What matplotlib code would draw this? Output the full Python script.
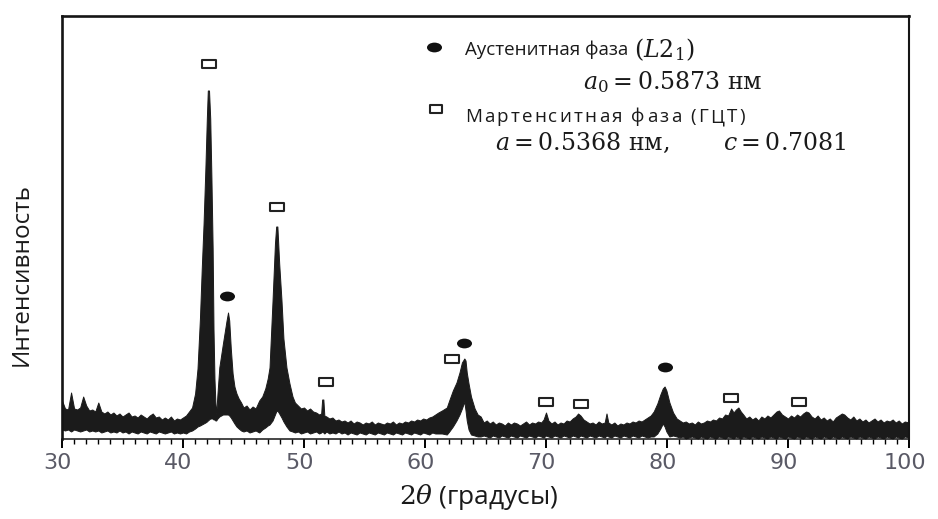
import matplotlib
matplotlib.use("Agg")
import matplotlib.pyplot as plt
import matplotlib.transforms as mtransforms
from matplotlib.path import Path
from matplotlib.ticker import MultipleLocator

# XRD pattern: 2theta grid (deg) and lower / upper edge of the noisy trace (a.u.)
two_theta = [
    # 30 - 40.5
    30.0, 30.25, 30.5, 30.75, 31.0, 31.25, 31.5, 31.75, 32.0, 32.25,
    32.5, 32.75, 33.0, 33.25, 33.5, 33.75, 34.0, 34.25, 34.5, 34.75,
    35.0, 35.25, 35.5, 35.75, 36.0, 36.25, 36.5, 36.75, 37.0, 37.25,
    37.5, 37.75, 38.0, 38.25, 38.5, 38.75, 39.0, 39.25, 39.5, 39.75,
    40.0, 40.25, 40.5,
    # peaks at 42.1, 43.7, 47.7
    40.75, 41.0, 41.2, 41.4, 41.55, 41.7, 41.85, 41.97, 42.05, 42.15,
    42.25, 42.35, 42.45, 42.52, 42.6, 42.68, 42.74, 42.85, 43.0, 43.3,
    43.6, 43.72, 43.82, 43.95, 44.1, 44.25, 44.42, 44.6, 44.8, 45.0,
    45.25, 45.5, 45.75, 46.0, 46.3, 46.55, 46.8, 47.0, 47.15, 47.4,
    47.6, 47.7, 47.8, 47.95, 48.14, 48.3, 48.55, 48.8, 49.05,
    # 49 - 61
    49.25, 49.5, 49.75, 50.0, 50.25, 50.5, 50.75, 51.0, 51.25, 51.42,
    51.5, 51.6, 51.68, 51.85, 52.1, 52.35, 52.6, 52.85, 53.1, 53.35,
    53.6, 53.85, 54.1, 54.35, 54.6, 54.85, 55.1, 55.35, 55.6, 55.85,
    56.1, 56.35, 56.6, 56.85, 57.1, 57.35, 57.6, 57.85, 58.1, 58.35,
    58.6, 58.85, 59.1, 59.35, 59.6, 59.85, 60.1, 60.35, 60.6, 60.85,
    # peak at 63.2
    61.1, 61.4, 61.8, 62.0, 62.3, 62.6, 62.85, 63.05, 63.25, 63.35,
    63.45, 63.6, 63.8, 64.1, 64.35,
    # 64.6 - 78.7
    64.6, 64.85, 65.1, 65.35, 65.6, 65.85, 66.1, 66.35, 66.6, 66.85,
    67.1, 67.35, 67.6, 67.85, 68.1, 68.35, 68.6, 68.85, 69.1, 69.35,
    69.6, 69.8, 70.0, 70.2, 70.45, 70.7, 70.95, 71.2, 71.45, 71.7,
    71.95, 72.2, 72.45, 72.65, 72.85, 73.1, 73.35, 73.6, 73.85, 74.1,
    74.35, 74.6, 74.85, 75.0, 75.15, 75.4, 75.65, 75.9, 76.15, 76.4,
    76.65, 76.9, 77.15, 77.4, 77.65, 77.9, 78.15, 78.4, 78.65,
    # peak at 79.8
    78.9, 79.2, 79.45, 79.65, 79.8, 79.95, 80.2, 80.5, 80.8,
    # 81 - 100
    81.05, 81.3, 81.55, 81.8, 82.05, 82.3, 82.55, 82.8, 83.05, 83.3,
    83.55, 83.8, 84.05, 84.3, 84.55, 84.8, 85.05, 85.3, 85.5, 85.7,
    85.9, 86.1, 86.3, 86.55, 86.8, 87.05, 87.3, 87.55, 87.8, 88.05,
    88.3, 88.55, 88.8, 89.05, 89.25, 89.5, 89.75, 90.0, 90.25, 90.5,
    90.75, 91.0, 91.25, 91.5, 91.7, 91.95, 92.2, 92.45, 92.7, 92.95,
    93.2, 93.45, 93.7, 93.95, 94.2, 94.45, 94.65, 94.9, 95.15, 95.4,
    95.65, 95.9, 96.15, 96.4, 96.65, 96.9, 97.15, 97.4, 97.65, 97.9,
    98.15, 98.4, 98.65, 98.9, 99.15, 99.4, 99.65, 100.0,
]
trace_low = [
    9, 8, 9, 7, 9, 8, 7, 8, 9, 7,
    8, 7, 8, 6, 7, 8, 6, 7, 6, 8,
    6, 7, 5, 7, 6, 5, 7, 6, 5, 7,
    6, 5, 7, 6, 5, 6, 7, 5, 6, 5,
    6, 5, 7,
    8, 10, 12, 13, 14, 15, 16, 17, 18, 19,
    20, 20, 20, 19, 19, 18, 18, 20, 22, 24,
    24, 24, 23, 21, 18, 15, 12, 10, 8, 7,
    8, 6, 7, 8, 6, 9, 11, 13, 14, 18,
    24, 27, 28, 25, 21, 17, 12, 8, 7,
    6, 7, 5, 6, 7, 5, 6, 7, 5, 6,
    7, 6, 5, 7, 5, 6, 5, 7, 5, 6,
    4, 6, 5, 4, 6, 5, 4, 6, 5, 4,
    6, 5, 4, 6, 5, 4, 6, 5, 4, 6,
    5, 4, 6, 5, 4, 6, 5, 4, 6, 5,
    5, 5, 4, 7, 12, 18, 24, 30, 37, 28,
    18, 9, 4, 3, 2,
    2, 3, 2, 1, 3, 2, 1, 3, 2, 1,
    3, 2, 1, 3, 2, 1, 3, 2, 1, 3,
    2, 1, 3, 2, 1, 3, 2, 1, 3, 2,
    1, 3, 2, 1, 3, 2, 1, 3, 2, 1,
    3, 2, 1, 3, 2, 1, 3, 2, 1, 3,
    2, 1, 3, 2, 1, 3, 2, 1, 2,
    2, 5, 10, 15, 12, 7, 2, 3, 2,
    1, 2, 0, 1, 2, 1, 0, 2, 1, 0,
    2, 1, 0, 2, 1, 0, 2, 1, 0, 2,
    1, 0, 2, 1, 0, 2, 1, 0, 2, 1,
    0, 2, 1, 0, 2, 1, 0, 2, 1, 0,
    2, 1, 0, 2, 1, 0, 2, 1, 0, 2,
    1, 0, 2, 1, 0, 2, 1, 0, 2, 1,
    0, 2, 1, 0, 2, 1, 0, 2, 1, 0,
    2, 1, 0, 2, 1, 0, 2, 1,
]
trace_high = [
    38, 30, 29, 46, 30, 29, 31, 42, 33, 28,
    29, 27, 36, 27, 25, 27, 24, 26, 23, 25,
    22, 24, 26, 22, 23, 21, 24, 22, 20, 23,
    25, 21, 22, 19, 21, 19, 22, 18, 20, 19,
    21, 23, 27,
    31, 45, 70, 120, 170, 215, 270, 320, 348, 348,
    320, 260, 190, 110, 60, 35, 24, 45, 71, 95,
    118, 126, 118, 90, 65, 52, 45, 40, 36, 31,
    33, 29, 32, 30, 38, 42, 50, 60, 71, 138,
    195, 212, 212, 175, 138, 100, 71, 55, 42,
    36, 33, 30, 31, 28, 30, 27, 26, 24, 25,
    39, 39, 23, 22, 20, 21, 18, 19, 17, 18,
    16, 18, 15, 17, 16, 14, 16, 15, 17, 14,
    16, 15, 14, 16, 15, 17, 14, 16, 15, 17,
    16, 18, 17, 19, 18, 20, 19, 21, 22, 24,
    26, 28, 31, 38, 48, 56, 66, 76, 80, 78,
    66, 55, 42, 30, 24,
    22, 16, 18, 15, 17, 14, 16, 15, 13, 16,
    14, 16, 15, 13, 15, 17, 14, 16, 15, 17,
    16, 19, 26, 18, 15, 17, 14, 16, 15, 18,
    17, 20, 22, 25, 23, 19, 17, 15, 16, 14,
    17, 15, 16, 25, 16, 14, 16, 13, 15, 14,
    16, 15, 17, 16, 18, 17, 19, 21, 23,
    27, 35, 44, 50, 52, 48, 36, 26, 20,
    18, 16, 17, 15, 16, 14, 17, 15, 16, 18,
    17, 19, 18, 21, 20, 24, 23, 30, 26, 29,
    31, 27, 24, 20, 22, 19, 21, 18, 22, 20,
    23, 21, 24, 27, 28, 24, 22, 20, 23, 21,
    24, 22, 25, 27, 26, 22, 20, 23, 19, 21,
    18, 20, 17, 21, 23, 25, 24, 21, 19, 22,
    18, 20, 17, 19, 16, 18, 20, 17, 19, 16,
    18, 17, 19, 16, 18, 15, 17, 16,
]

# reflections of the two phases
martensite_2theta = [42.13, 47.75, 51.8, 62.25, 70.0, 72.9, 85.3, 90.95]
martensite_level = [375, 232, 57, 80, 37, 35, 41, 37]
austenite_2theta = [43.6, 63.25, 79.8]
austenite_level = [143, 96, 72]

plt.rcParams['mathtext.fontset'] = 'dejavuserif'

W, H = 938, 519
fig = plt.figure(figsize=(W / 100, H / 100), dpi=100)
ax = fig.add_axes([62 / W, 80.5 / H, 847 / W, 423 / H])

ax.fill_between(two_theta, trace_low, trace_high, color='#1b1b1b',
                edgecolor='#1b1b1b', linewidth=0.7, zorder=2)

# open rectangle and filled ellipse markers
rect = Path([(-0.7, -0.45), (0.7, -0.45), (0.7, 0.45), (-0.7, 0.45), (-0.7, -0.45)], closed=True)
ell = Path.unit_circle().transformed(mtransforms.Affine2D().scale(1, 0.65))

ax.scatter(martensite_2theta, martensite_level, marker=rect, s=88,
           facecolor='white', edgecolor='#222222', linewidths=1.5, zorder=4)
ax.scatter(austenite_2theta, austenite_level, marker=ell, s=117,
           color='#111111', linewidths=0, zorder=4)

ax.set_xlim(30, 100)
ax.set_ylim(0, 423)

ax.xaxis.set_major_locator(MultipleLocator(10))
ax.xaxis.set_minor_locator(MultipleLocator(1))
ax.tick_params(axis='x', which='major', direction='out', length=6.5, width=1.4,
               labelsize=16, labelcolor='#5a5a66', pad=4)
ax.tick_params(axis='x', which='minor', direction='out', length=3.5, width=1.0)
ax.tick_params(axis='y', left=False, labelleft=False)

shift = mtransforms.ScaledTranslation(-4.5 / 100, 0, fig.dpi_scale_trans)
for lbl in ax.get_xticklabels():
    lbl.set_transform(lbl.get_transform() + shift)

for side, lw in [('left', 1.9), ('top', 1.9), ('right', 1.5), ('bottom', 1.1)]:
    ax.spines[side].set_linewidth(lw)
    ax.spines[side].set_color('#151515')

ax.set_xlabel(r'$2\theta$ (градусы)', family='Open Sans', fontsize=19, color='#1a1a1a')
ax.xaxis.set_label_coords((479 - 62) / 847, -(497 - 438.5) / 423)
ax.xaxis.label.set_va('center')
ax.set_ylabel('Интенсивность', family='Open Sans', fontsize=17.5, color='#1a1a1a')
ax.yaxis.set_label_coords((22 - 62) / 847, (438.5 - 274) / 423)
ax.yaxis.label.set_va('center')


def at(x, y):
    # pixel position inside the axes -> axes fraction
    return (x - 62) / 847, (438.5 - y) / 423


def spaced_text(x, y, s, extra, **kw):
    # draw a string letter by letter with a little extra tracking (px)
    renderer = fig.canvas.get_renderer()
    for ch in s:
        if ch == ' ':
            x += 5 + extra
            continue
        t = ax.text(*at(x, y), ch, **kw)
        x += t.get_window_extent(renderer).width + extra


# legend block
ax.scatter(*at(434, 47), marker=ell, s=117, color='#111111', linewidths=0,
           transform=ax.transAxes, clip_on=False, zorder=5)
ax.scatter(*at(436, 109), marker=rect, s=70, facecolor='white', edgecolor='#222222',
           linewidths=1.5, transform=ax.transAxes, clip_on=False, zorder=5)

sans = dict(family='Open Sans', fontsize=13.5, color='#1a1a1a', va='center', ha='left',
            transform=ax.transAxes)
serif = dict(family='DejaVu Serif', fontsize=17, color='#1a1a1a', va='center', ha='left',
             transform=ax.transAxes)
ax.text(*at(465, 50), 'Аустенитная фаза', **sans)
ax.text(*at(634, 50), r'$(L2_1)$', **serif)
ax.text(*at(583, 82), r'$a_0 = 0.5873$ нм', **serif)
spaced_text(465, 117, 'Мартенситная фаза (ГЦТ)', 2.2, **sans)
ax.text(*at(495, 143), r'$a = 0.5368$ нм,', **serif)
ax.text(*at(723, 143), r'$c = 0.7081$', **serif)

fig.savefig('out.png', dpi=100)
